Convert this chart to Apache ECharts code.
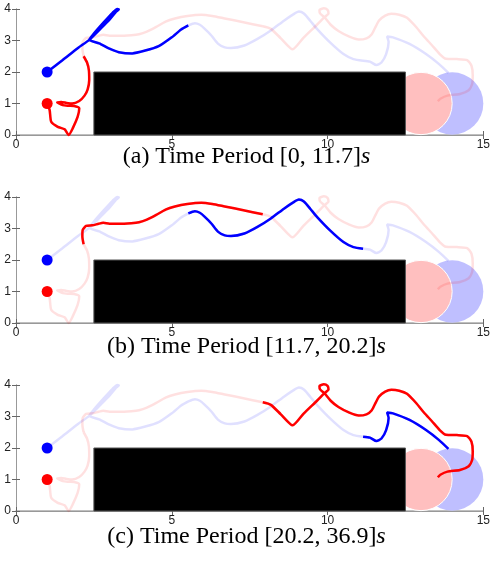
<!DOCTYPE html>
<html>
<head>
<meta charset="utf-8">
<script src="https://cdn.jsdelivr.net/npm/echarts@6/dist/echarts.min.js"></script>
<style>
  html, body { margin: 0; padding: 0; background: #fff; }
  #main { width: 493px; height: 569px; }
</style>
</head>
<body>
<div id="main"></div>
<script>
// 起点
var redStart = [1, 1];
var blueStart = [1, 2];

// 障碍物 [x0, y0, x1, y1] 和目标圆 [cx, cy, r]
var obstacle = [2.5, 0, 12.5, 2];
var goalBlue = [14, 1, 1];
var goalRed = [13, 1, 1];

// 红色轨迹 三段
var redA = [[1,1],[1.08,0.79],[1.13,0.42],[1.34,0.26],[1.56,0.18],[1.69,0.0],[1.82,0.21],[1.98,0.58],[2.03,0.85],
  [1.87,0.92],[1.68,0.93],[1.5,0.95],[1.32,1.04],[1.45,1.05],[1.62,1.02],[1.8,1.0],[2.03,1.08],[2.2,1.25],
  [2.3,1.45],[2.35,1.75],[2.34,2.05],[2.28,2.3],[2.17,2.5]];
var redB = [[2.17,2.5],[2.13,2.75],[2.14,2.95],[2.25,3.08],[2.45,3.1],[2.65,3.15],[2.8,3.18],[3.0,3.15],[3.3,3.15],
  [3.7,3.17],[3.95,3.2],[4.2,3.28],[4.5,3.43],[4.8,3.6],[5.1,3.7],[5.5,3.78],[5.95,3.82],[6.3,3.78],[6.7,3.7],
  [7.3,3.58],[7.92,3.45]];
var redC = [[7.92,3.45],[8.18,3.37],[8.5,3.07],[8.88,2.72],[9.24,3.1],[9.66,3.5],[9.9,3.74],[10.03,3.86],[10.0,3.97],
  [9.88,4.02],[9.74,3.97],[9.76,3.86],[9.9,3.74],[10.1,3.5],[10.35,3.3],[10.7,3.12],[11.0,3.03],[11.25,3.07],
  [11.42,3.2],[11.55,3.45],[11.65,3.63],[11.85,3.79],[12.05,3.85],[12.3,3.82],[12.55,3.72],[12.85,3.42],
  [13.1,3.12],[13.35,2.85],[13.6,2.57],[13.8,2.42],[14.15,2.41],[14.48,2.38],[14.62,2.2],[14.66,1.9],
  [14.64,1.62],[14.53,1.42],[14.25,1.3],[13.85,1.25],[13.62,1.15],[13.54,1.07]];

// 蓝色轨迹 三段
var blueA = [[1,2],[1.5,2.38],[2.0,2.77],[2.35,3.02],[2.7,3.36],[3.0,3.66],[3.2,3.9],[3.3,3.99],[3.25,4.0],
  [3.1,3.88],[2.8,3.56],[2.5,3.22],[2.35,3.02],[2.67,2.91],[3.0,2.74],[3.3,2.63],[3.73,2.59],[4.15,2.68],
  [4.58,2.82],[5.0,3.1],[5.3,3.35],[5.53,3.48]];
var blueB = [[5.53,3.48],[5.74,3.55],[5.9,3.5],[6.06,3.37],[6.27,3.16],[6.48,2.9],[6.7,2.78],[6.9,2.76],[7.33,2.84],
  [7.75,3.05],[8.18,3.32],[8.6,3.63],[8.9,3.83],[9.08,3.92],[9.24,3.86],[9.45,3.62],[9.66,3.37],[10.08,2.94],
  [10.51,2.57],[10.83,2.41],[11.14,2.36]];
var blueC = [[11.14,2.36],[11.36,2.33],[11.57,2.22],[11.73,2.3],[11.88,2.57],[11.96,2.95],[11.91,3.13],[12.1,3.1],
  [12.63,2.89],[13.16,2.57],[13.58,2.25],[13.88,1.97]];

// 坐标轴刻度
var xTicks = [0, 5, 10, 15];
var yTicks = [0, 1, 2, 3, 4];

// 子图标题
var captions = [
  ['(a) Time Period ', '[0, 11.7]', 's'],
  ['(b) Time Period ', '[11.7, 20.2]', 's'],
  ['(c) Time Period ', '[20.2, 36.9]', 's']
];

var redSegs = [redA, redB, redC];
var blueSegs = [blueA, blueB, blueC];

var panelTops = [9, 197, 385];
var captionY = [157, 347, 537];

var myChart = echarts.init(document.getElementById('main'));

var grids = [], xAxes = [], yAxes = [], series = [], graphics = [];

var tickLabel = { color: '#222', fontSize: 12, fontFamily: 'Liberation Sans, Arial, sans-serif' };

function renderShapes(params, api) {
  var kind = api.value(0);
  if (kind === 0) {
    var p0 = api.coord([api.value(1), api.value(2)]);
    var p1 = api.coord([api.value(3), api.value(4)]);
    return {
      type: 'rect',
      shape: { x: p0[0], y: p1[1], width: p1[0] - p0[0], height: p0[1] - p1[1] },
      style: { fill: '#000', stroke: '#555', lineWidth: 1 }
    };
  }
  var c = api.coord([api.value(1), api.value(2)]);
  var r = api.size([api.value(3), 0])[0];
  return {
    type: 'circle',
    shape: { cx: c[0], cy: c[1], r: r },
    style: kind === 1 ? { fill: '#bfbfff' } : { fill: '#ffbfbf', stroke: '#fff', lineWidth: 1 }
  };
}

for (var i = 0; i < 3; i++) {
  grids.push({ left: 16, width: 472, top: panelTops[i], height: 126 });

  xAxes.push({
    type: 'value', gridIndex: i, min: xTicks[0], max: xTicks[xTicks.length - 1], interval: 5,
    position: 'bottom',
    splitLine: { show: false },
    axisLine: { lineStyle: { color: '#aaa', width: 1.5 } },
    axisTick: { inside: true, length: 4, lineStyle: { color: '#666' } },
    axisLabel: Object.assign({ margin: 4 }, tickLabel)
  });
  xAxes.push({
    type: 'value', gridIndex: i, min: 0, max: 15, interval: 5, position: 'top',
    splitLine: { show: false },
    axisLine: { lineStyle: { color: '#999' } },
    axisTick: { inside: true, length: 4, lineStyle: { color: '#666' } },
    axisLabel: { show: false }
  });
  yAxes.push({
    type: 'value', gridIndex: i, min: yTicks[0], max: yTicks[yTicks.length - 1], interval: 1,
    position: 'left',
    splitLine: { show: false },
    axisLine: { lineStyle: { color: '#999' } },
    axisTick: { inside: true, length: 4, lineStyle: { color: '#666' } },
    axisLabel: Object.assign({ margin: 5 }, tickLabel)
  });
  yAxes.push({
    type: 'value', gridIndex: i, min: 0, max: 4, interval: 1, position: 'right',
    splitLine: { show: false },
    axisLine: { lineStyle: { color: '#999' } },
    axisTick: { inside: true, length: 4, lineStyle: { color: '#666' } },
    axisLabel: { show: false }
  });

  // 障碍物和目标
  series.push({
    type: 'custom', xAxisIndex: 2 * i, yAxisIndex: 2 * i, z: 1, silent: true,
    renderItem: renderShapes,
    data: [
      [1, goalBlue[0], goalBlue[1], goalBlue[2], 0],
      [2, goalRed[0], goalRed[1], goalRed[2], 0],
      [0, obstacle[0], obstacle[1], obstacle[2], obstacle[3]]
    ]
  });

  // 淡色的完整轨迹
  for (var k = 0; k < 3; k++) {
    series.push({
      type: 'line', xAxisIndex: 2 * i, yAxisIndex: 2 * i, z: 2, showSymbol: false, smooth: 0.2,
      silent: true, clip: false,
      lineStyle: { color: '#ff0000', width: 2.5, opacity: 0.12 },
      data: redSegs[k]
    });
    series.push({
      type: 'line', xAxisIndex: 2 * i, yAxisIndex: 2 * i, z: 2, showSymbol: false, smooth: 0.2,
      silent: true, clip: false,
      lineStyle: { color: '#0000ff', width: 2.5, opacity: 0.12 },
      data: blueSegs[k]
    });
  }

  // 当前时间段的轨迹
  series.push({
    type: 'line', xAxisIndex: 2 * i, yAxisIndex: 2 * i, z: 3, showSymbol: false, smooth: 0.2,
    silent: true, clip: false,
    lineStyle: { color: '#ff0000', width: 2.5 },
    data: redSegs[i]
  });
  series.push({
    type: 'line', xAxisIndex: 2 * i, yAxisIndex: 2 * i, z: 3, showSymbol: false, smooth: 0.2,
    silent: true, clip: false,
    lineStyle: { color: '#0000ff', width: 2.5 },
    data: blueSegs[i]
  });

  // 起点
  series.push({
    type: 'scatter', xAxisIndex: 2 * i, yAxisIndex: 2 * i, z: 4, symbolSize: 11, silent: true,
    itemStyle: { color: '#ff0000', opacity: 1 }, data: [redStart]
  });
  series.push({
    type: 'scatter', xAxisIndex: 2 * i, yAxisIndex: 2 * i, z: 4, symbolSize: 11, silent: true,
    itemStyle: { color: '#0000ff', opacity: 1 }, data: [blueStart]
  });

  graphics.push({
    type: 'text', left: 'center', top: captionY[i] - 12,
    style: {
      text: '{n|' + captions[i][0] + captions[i][1] + '}{i|' + captions[i][2] + '}',
      rich: {
        n: { fontFamily: 'Liberation Serif, Times New Roman, serif', fontSize: 24, fill: '#000' },
        i: { fontFamily: 'Liberation Serif, Times New Roman, serif', fontSize: 24, fontStyle: 'italic', fill: '#000' }
      }
    }
  });
}

var option = {
  animation: false,
  backgroundColor: '#fff',
  grid: grids,
  xAxis: xAxes,
  yAxis: yAxes,
  series: series,
  graphic: graphics
};

myChart.setOption(option);
</script>
</body>
</html>
